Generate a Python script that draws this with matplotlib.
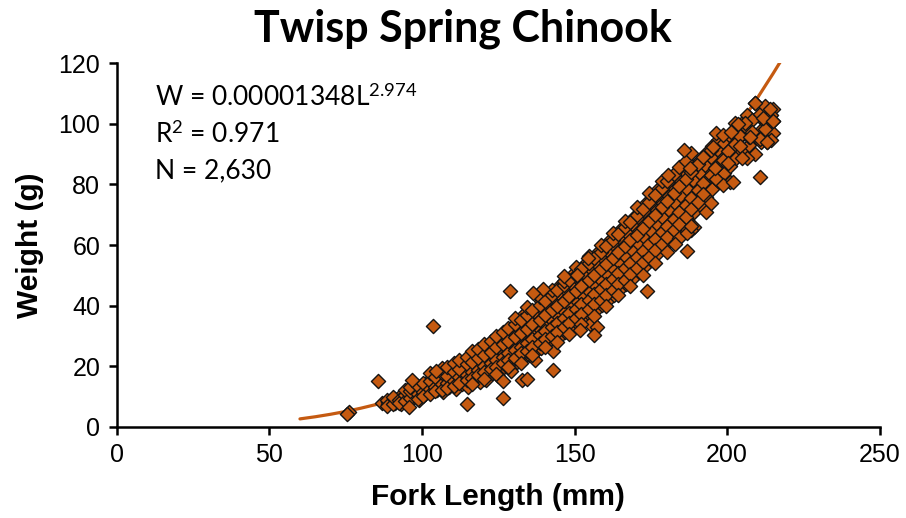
import matplotlib
matplotlib.use("Agg")
import matplotlib.pyplot as plt

# ---- data ----
# main band of fish: one fork length, several weights seen at that length
band_length = [87, 89, 91, 93, 95, 97, 99, 101, 103, 105, 107, 109, 111, 113,
               115, 117, 119, 121, 123, 125, 127, 129, 131, 133, 135, 137, 139,
               141, 143, 145, 147, 149, 151, 153, 155, 157, 159, 161, 163, 165,
               167, 169, 171, 173, 175, 177, 179, 181, 183, 185, 187, 189, 191,
               193, 195, 197, 199, 201, 203, 205, 207, 209, 211, 213, 215]
band_weight = [
    [7.8], [8.2, 7.4], [8.0, 9.2], [8.6, 7.6, 10.4], [9.0, 11.2, 8.2],
    [9.6, 12.0, 10.4], [10.0, 12.8, 11.4, 9.0], [10.8, 13.6, 12.0],
    [11.4, 14.4, 12.6, 16.2], [12.0, 15.0, 13.4, 17.0],
    [12.6, 15.8, 14.0, 17.6, 11.4], [13.2, 16.4, 14.8, 18.4],
    [13.6, 17.2, 15.4, 19.6, 12.6], [14.2, 18.0, 16.0, 20.2],
    [14.8, 18.8, 16.8, 21.2, 13.2], [15.4, 19.6, 17.6, 22.0, 24.0],
    [16.2, 20.6, 18.4, 23.2, 14.8], [17.0, 21.4, 19.4, 24.4, 26.0, 15.6],
    [17.8, 22.4, 20.2, 25.4, 27.8], [18.6, 23.4, 21.0, 26.6, 29.0, 16.8],
    [19.6, 24.4, 22.0, 27.6, 30.6], [20.4, 25.6, 23.0, 28.8, 32.0, 18.4],
    [21.4, 26.8, 24.0, 30.2, 33.2], [22.6, 28.0, 25.2, 31.4, 34.8, 37.0],
    [23.6, 29.4, 26.4, 32.8, 36.2], [24.8, 30.6, 27.6, 34.2, 37.8, 22.0],
    [26.0, 32.0, 29.0, 35.6, 39.2, 41.6], [27.2, 33.4, 30.2, 37.0, 40.6],
    [28.4, 35.0, 31.6, 38.6, 42.2, 25.0], [29.8, 36.4, 33.0, 40.2, 43.8, 46.4],
    [31.2, 38.0, 34.6, 41.8, 45.4], [32.6, 39.6, 36.2, 43.4, 47.2, 50.0],
    [34.0, 41.2, 37.8, 45.0, 48.8], [35.6, 42.8, 39.4, 46.8, 50.6, 53.4],
    [37.0, 44.6, 41.0, 48.6, 52.4, 33.8], [38.6, 46.4, 42.6, 50.4, 54.2, 57.0],
    [40.2, 48.2, 44.4, 52.2, 56.0], [41.8, 50.0, 46.2, 54.2, 58.0, 61.0],
    [43.6, 52.0, 48.0, 56.0, 60.0], [45.4, 54.0, 49.8, 58.2, 62.2, 65.0],
    [47.2, 56.0, 51.8, 60.4, 64.4], [49.0, 58.0, 53.8, 62.4, 66.6, 69.0],
    [51.0, 60.2, 55.8, 64.6, 68.8], [53.0, 62.4, 58.0, 66.8, 71.0, 73.6],
    [55.0, 64.6, 60.0, 69.0, 73.4], [57.0, 66.8, 62.2, 71.4, 75.8, 78.0],
    [59.2, 69.0, 64.6, 73.8, 78.2], [61.4, 71.4, 66.8, 76.2, 80.6],
    [63.6, 73.8, 69.2, 78.6, 82.8], [66.0, 76.2, 71.6, 81.0, 85.0],
    [68.4, 78.6, 74.0, 83.4], [70.8, 81.0, 76.4, 86.0, 66.0],
    [73.2, 83.6, 79.0, 88.2], [75.8, 86.2, 81.6, 90.4, 71.0],
    [78.4, 88.6, 84.0, 92.6], [81.0, 91.2, 86.6, 94.8], [83.6, 93.6, 89.0],
    [86.0, 96.0, 80.8, 91.6], [88.6, 98.2, 94.0], [91.0, 100.2, 96.4],
    [93.0, 95.6, 102.4], [96.0, 106.8, 90.0], [101.8, 98.0, 94.0],
    [94.0, 104.6, 100.0], [101.0, 105.0, 97.0],
]

# second pass over the band, between the lengths above
band2_length = [88.4, 90.6, 92.3, 94.5, 96.2, 98.6, 100.3, 102.5, 104.2,
                106.6, 108.3, 110.5, 112.2, 114.6, 116.3, 118.5, 120.2,
                122.6, 124.3, 126.5, 128.2, 130.6, 132.3, 134.5, 136.2,
                138.6, 140.3, 142.5, 144.2, 146.6, 148.3, 150.5, 152.2,
                154.6, 156.3, 158.5, 160.2, 162.6, 164.3, 166.5, 168.2,
                170.6, 172.3, 174.5, 176.2, 178.6, 180.3, 182.5, 184.2,
                186.6, 188.3, 190.5, 192.2, 194.6, 196.3, 198.5, 200.2,
                202.6, 204.3, 206.5, 208.2, 210.6, 212.3, 214.5]
band2_weight = [
    [8.8, 7.0], [7.6, 9.8], [9.0, 8.0], [10.6, 8.4, 12.2], [9.4, 11.8, 13.0],
    [10.8, 9.2, 13.4], [11.6, 14.6, 10.2], [12.4, 15.2, 10.8, 17.8],
    [13.0, 16.4, 11.8], [14.2, 12.2, 17.8, 19.4], [14.6, 16.8, 19.6, 12.8],
    [15.2, 18.2, 13.6, 21.0], [16.4, 14.4, 19.0, 22.2],
    [17.0, 15.4, 20.6, 23.0], [18.2, 16.2, 21.4, 14.2, 25.0],
    [18.8, 17.0, 22.6, 25.8], [20.0, 18.0, 23.8, 27.2, 15.8],
    [21.2, 19.0, 24.8, 28.4], [22.0, 19.8, 26.2, 30.0, 17.4],
    [23.2, 21.0, 27.2, 31.2], [24.2, 22.0, 28.4, 32.6, 19.8],
    [25.4, 22.8, 29.6, 34.0, 36.0], [26.4, 24.2, 31.0, 35.4, 21.0],
    [27.8, 25.0, 32.4, 36.8, 39.4], [29.0, 26.4, 34.0, 38.4, 23.6],
    [30.4, 27.6, 35.2, 40.2, 43.0], [31.6, 29.0, 36.8, 41.6, 26.2],
    [33.0, 30.0, 38.4, 43.4, 45.0], [34.4, 31.4, 40.0, 45.0, 28.0],
    [36.0, 32.8, 41.6, 46.8, 48.0], [37.4, 34.4, 43.2, 48.4, 30.6],
    [39.0, 35.8, 44.8, 50.2, 52.6], [40.6, 37.2, 46.6, 52.0, 34.0],
    [42.0, 38.8, 48.4, 54.0, 56.4], [43.8, 40.4, 50.0, 55.6, 36.6],
    [45.4, 42.0, 52.0, 57.6, 60.0], [47.0, 43.6, 53.8, 59.6, 40.0],
    [48.8, 45.2, 55.6, 61.6, 64.0], [50.6, 47.0, 57.6, 63.6, 43.6],
    [52.4, 48.6, 59.6, 65.8, 68.0], [54.2, 50.4, 61.6, 67.6, 46.6],
    [56.2, 52.4, 63.4, 69.8, 72.4], [58.0, 54.4, 65.6, 72.0, 50.2],
    [60.2, 56.2, 67.8, 74.2, 77.0], [62.0, 58.4, 70.0, 76.4, 54.0],
    [64.4, 60.4, 72.4, 78.8, 81.0], [66.4, 62.6, 74.6, 81.2, 57.6],
    [68.6, 64.8, 77.0, 83.4], [71.0, 67.0, 79.4, 85.6, 62.4],
    [73.2, 69.4, 81.8, 87.8], [75.6, 71.8, 84.2, 90.2, 64.8],
    [78.2, 74.2, 86.6], [80.6, 76.8, 89.0], [83.2, 91.4, 74.0],
    [85.8, 81.8, 97.0], [88.2, 96.2, 79.8], [91.0, 87.2], [93.4, 100.4],
    [96.0, 92.6], [98.6, 103.0, 88.8], [101.2, 97.4], [103.2, 95.0],
    [98.4, 106.0], [102.8, 94.6],
]

# stray fish away from the band
outlier_length = [76.0, 75.5, 85.5, 103.5, 96.7, 95.7, 104.5, 114.7, 126.5,
                  126.5, 128.8, 132.7, 134.3, 142.9, 157.3, 156.4, 151.7,
                  139.6, 136.4, 146.5, 150.7, 154.3, 173.7, 186.8, 182.8,
                  186.8, 188.0, 180.5, 187.7, 186.0, 210.7, 209.0, 214.0,
                  211.7, 215.0, 205.8, 203.5, 201.4, 213.0, 207.4, 204.8,
                  201.8, 196.0, 195.3]
outlier_weight = [5.0, 4.2, 15.0, 33.3, 15.5, 6.6, 18.5, 7.6, 9.6,
                  15.2, 44.8, 15.5, 15.8, 18.8, 33.0, 30.4, 32.0,
                  45.5, 44.2, 49.8, 50.0, 55.7, 44.8, 58.0, 60.3,
                  64.0, 66.3, 83.0, 85.4, 91.3, 82.4, 106.8, 105.0,
                  101.9, 101.0, 100.2, 100.0, 97.3, 94.0, 95.6, 88.7,
                  80.8, 85.4, 92.3]

# points along the drawn power trend line
fit_length = [60, 65, 70, 75, 80, 85, 90, 95, 100, 105, 110, 115, 120, 125,
              130, 135, 140, 145, 150, 155, 160, 165, 170, 175, 180, 185,
              190, 195, 200, 205, 210, 215, 218]
fit_weight = [2.62, 3.32, 4.14, 5.08, 6.16, 7.38, 8.74, 10.27, 11.96, 13.83,
              15.88, 18.12, 20.57, 23.22, 26.09, 29.20, 32.53, 36.11, 39.94,
              44.04, 48.40, 53.03, 57.95, 63.18, 68.69, 74.53, 80.67, 87.15,
              93.96, 101.13, 108.65, 116.5, 121.4]

x_ticks = [0, 50, 100, 150, 200, 250]
y_ticks = [0, 20, 40, 60, 80, 100, 120]

orange = "#C55A11"

lengths = []
weights = []
for L, ws in list(zip(band_length, band_weight)) + list(zip(band2_length, band2_weight)):
    for w in ws:
        lengths.append(L)
        weights.append(w)
lengths += outlier_length
weights += outlier_weight

plt.rcParams["mathtext.fontset"] = "custom"
plt.rcParams["mathtext.rm"] = "Lato"
plt.rcParams["mathtext.it"] = "Lato:italic"

fig = plt.figure(figsize=(9.06, 5.18), dpi=100)
ax = fig.add_axes([0.129, 0.176, 0.842, 0.702])

ax.plot(fit_length, fit_weight, color=orange, linewidth=2.3, zorder=2,
        solid_capstyle="round")
ax.scatter(lengths, weights, marker="D", s=52, facecolor=orange,
           edgecolor="#141414", linewidths=1.0, zorder=3)

ax.set_xlim(0, 250)
ax.set_ylim(0, 120)
ax.set_xticks(x_ticks)
ax.set_yticks(y_ticks)
for side in ["top", "right"]:
    ax.spines[side].set_visible(False)
for side in ["left", "bottom"]:
    ax.spines[side].set_linewidth(1.8)
ax.tick_params(direction="out", length=6, width=1.8, labelsize=18,
               pad=6)
for lab in ax.get_xticklabels() + ax.get_yticklabels():
    lab.set_fontfamily("Liberation Sans")

ax.set_xlabel("Fork Length (mm)", fontsize=21.5, fontweight="bold",
              fontfamily="Liberation Sans", labelpad=11)
ax.set_ylabel("Weight (g)", fontsize=21.5, fontweight="bold",
              fontfamily="Liberation Sans", labelpad=10)

fig.text(0.511, 0.945, "Twisp Spring Chinook", fontsize=31, fontweight="bold",
         fontfamily="Lato", ha="center", va="center")

ax.text(0.05, 0.905, r"W = 0.00001348L$^{2.974}$", transform=ax.transAxes,
        fontsize=19, fontfamily="Lato", va="center")
ax.text(0.05, 0.805, r"R$^{2}$ = 0.971", transform=ax.transAxes,
        fontsize=19, fontfamily="Lato", va="center")
ax.text(0.05, 0.705, "N = 2,630", transform=ax.transAxes,
        fontsize=19, fontfamily="Lato", va="center")

fig.savefig("out.png", dpi=100)
